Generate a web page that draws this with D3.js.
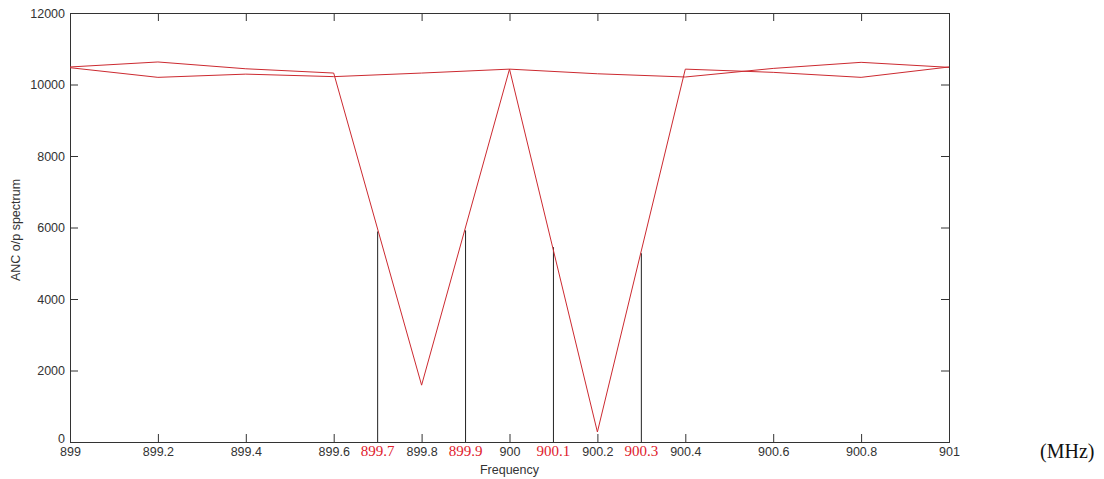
<!DOCTYPE html>
<html>
  <head>
    <meta charset="utf-8">
    <script src="https://d3js.org/d3.v7.min.js"></script>
    <style>
      body { margin: 0; background: #fff; }
      .tick text { font-family: "Liberation Sans", Arial, sans-serif; font-size: 12.5px; fill: #333; }
      .domain, .tick line { stroke: #333; }
    </style>
  </head>
  <body>
    <script>
      // frequencies (MHz) and the two ANC output spectra
      var freq = [899, 899.2, 899.4, 899.6, 899.8, 900, 900.2, 900.4, 900.6, 900.8, 901]
      var notched = [10490, 10630, 10440, 10320, 1590, 10430, 280, 10430, 10340, 10200, 10490]
      var flat = [10470, 10200, 10290, 10220, 10320, 10430, 10300, 10210, 10450, 10620, 10480]

      // marked frequencies with stems
      var markFreq = [899.7, 899.9, 900.1, 900.3]
      var markVal = [5890, 5920, 5450, 5280]

      var xTicks = [899, 899.2, 899.4, 899.6, 899.8, 900, 900.2, 900.4, 900.6, 900.8, 901]
      var yTicks = [0, 2000, 4000, 6000, 8000, 10000, 12000]

      var width = 1104
      var height = 479

      var svg = d3.select("body").append("svg")
      .attr("width", width)
      .attr("height", height);

      var x = d3.scaleLinear().domain([899, 901]).range([70, 949]);
      var y = d3.scaleLinear().domain([0, 12000]).range([442, 13]);

      // axes, ticks pointing inwards on all four sides
      svg.append("g")
      .attr("transform", "translate(0," + y(0) + ")")
      .call(d3.axisBottom(x).tickValues(xTicks).tickSize(-8).tickPadding(5)
        .tickFormat(d => String(+d.toFixed(1))));

      svg.append("g")
      .attr("transform", "translate(0," + y(12000) + ")")
      .call(d3.axisTop(x).tickValues(xTicks).tickSize(-8).tickFormat(""));

      var yAxis = svg.append("g")
      .attr("transform", "translate(" + x(899) + ",0)")
      .call(d3.axisLeft(y).tickValues(yTicks).tickSize(-8).tickPadding(5).tickFormat(d3.format("d")));

      // the zero label sits a bit above the axis, as in the original
      yAxis.selectAll(".tick text").filter(d => d === 0).attr("dy", "0.0em");

      svg.append("g")
      .attr("transform", "translate(" + x(901) + ",0)")
      .call(d3.axisRight(y).tickValues(yTicks).tickSize(-8).tickFormat(""));

      // stems
      markFreq.forEach(function(f, i) {
        svg.append("line")
        .attr("x1", x(f)).attr("x2", x(f))
        .attr("y1", y(0)).attr("y2", y(markVal[i]))
        .style("stroke", "#222")
        .style("stroke-width", 1);
      });

      // spectrum lines
      var line = d3.line().x((d, i) => x(freq[i])).y(d => y(d));

      svg.append("path")
      .datum(flat)
      .attr("d", line)
      .style("fill", "none")
      .style("stroke", "#cc2a30")
      .style("stroke-width", 1);

      svg.append("path")
      .datum(notched)
      .attr("d", line)
      .style("fill", "none")
      .style("stroke", "#cc2a30")
      .style("stroke-width", 1);

      // red labels for the marked frequencies
      markFreq.forEach(function(f) {
        svg.append("text")
        .attr("x", x(f))
        .attr("y", 456)
        .attr("text-anchor", "middle")
        .style("font-family", "'Liberation Serif', 'Times New Roman', serif")
        .style("font-size", "15px")
        .style("fill", "#e0202c")
        .text(f);
      });

      // axis titles
      svg.append("text")
      .attr("x", (x(899) + x(901)) / 2)
      .attr("y", 474)
      .attr("text-anchor", "middle")
      .style("font-family", "'Liberation Sans', Arial, sans-serif")
      .style("font-size", "12.5px")
      .style("fill", "#333")
      .text("Frequency");

      svg.append("text")
      .attr("transform", "translate(20," + 230 + ") rotate(-90)")
      .attr("text-anchor", "middle")
      .style("font-family", "'Liberation Sans', Arial, sans-serif")
      .style("font-size", "12.5px")
      .style("fill", "#333")
      .text("ANC o/p spectrum");

      svg.append("text")
      .attr("x", 1040)
      .attr("y", 458)
      .style("font-family", "'Liberation Serif', 'Times New Roman', serif")
      .style("font-size", "20px")
      .style("fill", "#111")
      .text("(MHz)");
    </script>
  </body>
</html>
